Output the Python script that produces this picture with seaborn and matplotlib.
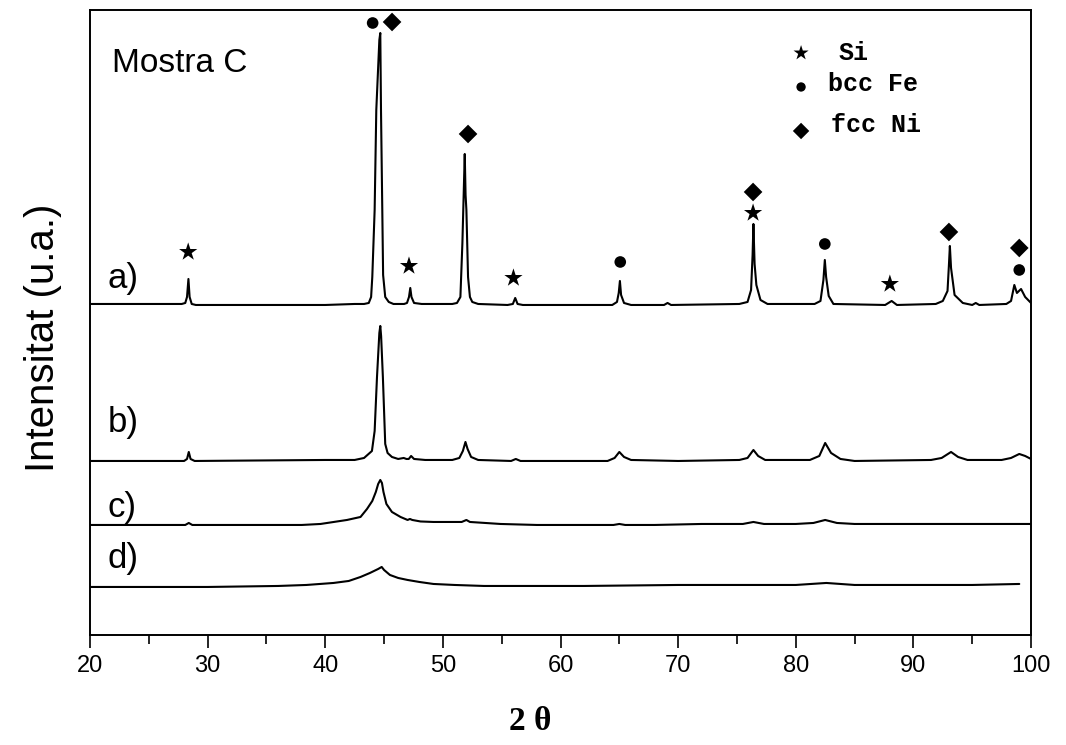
import numpy as np
import pandas as pd
import matplotlib
matplotlib.use("Agg")
import matplotlib.pyplot as plt
import seaborn as sns

# XRD patterns, Mostra C (intensity above each pattern's own baseline, u.a.)
pattern_a = [
    (20, 1), (27.8, 1), (28.1, 2), (28.25, 8), (28.37, 26), (28.47, 8), (28.65, 1), (29, 0),
    (35, 0), (40, 0), (42.5, 1), (43.3, 1), (43.7, 2), (43.9, 8), (44.0, 28), (44.2, 95),
    (44.34, 195), (44.6, 265), (44.68, 272), (44.74, 195), (44.85, 95), (44.92, 30),
    (45.1, 8), (45.4, 3), (45.8, 1), (46.7, 1), (46.95, 2), (47.12, 8), (47.23, 17),
    (47.33, 8), (47.55, 2), (48.2, 1), (50.8, 1), (51.2, 2), (51.49, 8), (51.66, 62),
    (51.86, 151), (51.93, 110), (52.0, 95), (52.14, 28), (52.3, 8), (52.5, 3), (53.0, 1),
    (55.5, 0), (55.95, 1), (56.15, 7), (56.35, 1), (56.8, 0), (64.4, 0), (64.8, 3),
    (64.95, 12), (65.05, 24), (65.15, 10), (65.4, 2), (66.0, 0), (68.8, 0), (69.1, 2),
    (69.4, 0), (75.2, 1), (75.9, 3), (76.2, 15), (76.33, 50), (76.4, 81), (76.5, 41),
    (76.65, 20), (77.0, 5), (77.6, 1), (81.6, 1), (82.1, 4), (82.35, 25), (82.47, 45),
    (82.58, 28), (82.8, 9), (83.2, 1), (87.6, 0), (88.15, 4), (88.6, 0), (91.9, 1),
    (92.5, 4), (92.9, 14), (93.02, 40), (93.1, 59), (93.2, 37), (93.5, 10), (94.2, 2),
    (95.0, 0), (95.3, 2), (95.6, 0), (97.9, 1), (98.3, 4), (98.58, 20), (98.8, 12),
    (99.15, 16), (99.5, 8), (100, 2),
]
pattern_b = [
    (20, 0), (28.0, 0), (28.25, 2), (28.4, 9), (28.55, 2), (28.9, 0), (40, 1),
    (42.5, 1), (43.3, 3), (43.97, 10), (44.2, 30), (44.4, 84), (44.6, 128), (44.68, 135),
    (44.75, 125), (44.9, 84), (45.1, 17), (45.3, 8), (45.67, 4), (46.2, 2), (46.67, 3),
    (46.9, 2), (47.1, 2), (47.3, 5), (47.55, 2), (48.5, 1), (50.8, 1), (51.4, 3),
    (51.7, 10), (51.92, 19), (52.1, 12), (52.4, 4), (53.0, 1), (55.8, 0), (56.2, 2),
    (56.6, 0), (64.0, 0), (64.6, 3), (65.0, 9), (65.4, 4), (66.0, 1), (70, 0),
    (75.2, 1), (75.9, 3), (76.4, 11), (76.8, 5), (77.4, 1), (81.2, 1), (82.0, 5),
    (82.5, 18), (83.0, 8), (83.8, 2), (85, 0), (91.5, 1), (92.4, 3), (93.2, 9),
    (93.8, 4), (94.6, 1), (97.5, 1), (98.3, 3), (99.0, 7), (99.5, 5), (100, 2),
]
pattern_c = [
    (20, 0), (28.1, 0), (28.4, 2), (28.7, 0), (38, 0), (39.6, 1), (41.85, 5), (43.0, 8),
    (43.55, 16), (44.0, 24), (44.3, 33), (44.5, 41), (44.68, 45), (44.82, 42),
    (44.95, 33), (45.2, 21), (45.67, 13), (46.4, 8), (47.0, 5), (47.2, 6), (47.4, 5),
    (48.1, 3.5), (49.2, 3), (51.6, 3), (52.0, 5), (52.3, 3), (54.9, 1), (58, 0),
    (64.5, 0), (65.0, 1), (65.5, 0), (68, 0), (72, 1), (75.5, 1), (76.4, 3), (77.3, 1),
    (80, 1), (81.5, 2), (82.5, 5), (83.5, 2), (85, 1), (93, 1), (99, 1), (100, 1),
]
pattern_d = [
    (20, 0), (30, 0), (36, 1), (38.4, 2), (40.7, 4), (42.0, 6), (43.0, 10), (43.8, 14),
    (44.5, 18), (44.8, 20), (45.0, 17), (45.5, 12), (46.2, 9), (47.0, 7), (48.0, 5),
    (49.2, 3), (51, 2), (53.5, 1), (57.7, 1), (62, 1), (70, 2), (76, 2), (80, 2),
    (82.6, 4), (85, 2), (90, 2), (95, 2), (99, 3),
]
patterns = [pattern_a, pattern_b, pattern_c, pattern_d]
pattern_labels = ["a)", "b)", "c)", "d)"]
offsets = [330, 174, 110, 48]
label_y = [356, 212, 127, 76]

# phase markers on pattern a)
si_peaks = [(28.35, 383), (47.12, 369), (56.0, 357), (76.37, 422), (88.0, 351)]
fe_peaks = [(44.03, 612), (65.08, 373), (82.47, 391), (99.0, 365)]
ni_peaks = [(45.68, 613), (52.14, 501), (76.37, 443), (93.02, 403), (99.0, 387)]
phase_names = ["Si", "bcc Fe", "fcc Ni"]

sns.set_style("ticks")
plt.rcParams["font.family"] = ["Liberation Sans", "DejaVu Sans"]
plt.rcParams["text.color"] = "black"
plt.rcParams["axes.labelcolor"] = "black"
plt.rcParams["xtick.color"] = "black"

fig = plt.figure(figsize=(10.66, 7.45), dpi=100)
ax = fig.add_axes([0.0844, 0.1477, 0.8828, 0.8389])

for pts, off, lab, ly in zip(patterns, offsets, pattern_labels, label_y):
    arr = np.array(pts, dtype=float)
    sns.lineplot(x=arr[:, 0], y=arr[:, 1] + off, ax=ax, color="black",
                 lw=1.5, sort=False, estimator=None)
    ax.text(21.5, ly, lab, fontsize=25, ha="left", va="center")

marker_style = [("*", 190), ("o", 70), ("D", 90)]
for peaks, (m, s) in zip([si_peaks, fe_peaks, ni_peaks], marker_style):
    df = pd.DataFrame(peaks, columns=["tt", "y"])
    sns.scatterplot(data=df, x="tt", y="y", ax=ax, marker=m, s=s,
                    color="black", edgecolor="none")

# legend drawn by hand
leg_marker_y = [582, 548, 504]
leg_text_y = [582, 551, 510]
leg_text_x = [83.66, 82.72, 82.98]
leg_sizes = [130, 45, 70]
for name, (m, _), my, ty, tx, s in zip(phase_names, marker_style, leg_marker_y,
                                        leg_text_y, leg_text_x, leg_sizes):
    ax.scatter([80.45], [my], marker=m, s=s, color="black", edgecolor="none")
    ax.text(tx, ty, name, fontsize=18, family="Liberation Mono",
            weight="bold", ha="left", va="center")

ax.text(21.85, 563, "Mostra C", fontsize=24, ha="left", va="baseline")

ax.set_xlim(20, 100)
ax.set_ylim(0, 625)
ax.set_xticks(np.arange(20, 101, 10))
ax.set_xticks(np.arange(25, 100, 10), minor=True)
ax.set_yticks([])
ax.tick_params(axis="x", which="major", direction="out", length=9.5, width=1.2,
               labelsize=17, pad=5, colors="black")
ax.tick_params(axis="x", which="minor", direction="out", length=6.5, width=1.2,
               colors="black")
for sp in ax.spines.values():
    sp.set_visible(True)
    sp.set_linewidth(1.4)
    sp.set_color("black")

ax.set_xlabel("2 θ", fontsize=24, family="Liberation Serif", weight="bold")
ax.xaxis.set_label_coords(0.4676, -0.113)
ax.xaxis.label.set_va("top")
ax.set_ylabel("Intensitat (u.a.)", fontsize=29)
ax.yaxis.set_label_coords(-0.03, 0.475)

fig.savefig("out.png", dpi=100)
